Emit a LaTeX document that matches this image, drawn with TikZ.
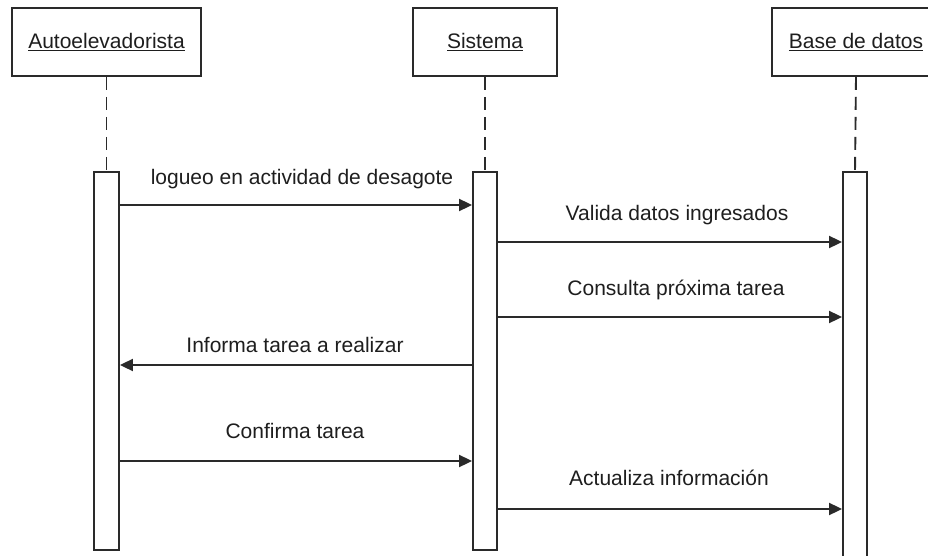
\documentclass[tikz,border=0pt]{standalone}
\usepackage{fontspec}
\setmainfont{Liberation Sans}
\usetikzlibrary{arrows.meta}
\definecolor{linegray}{HTML}{2A2A2A}
\definecolor{txtgray}{HTML}{1E1E1E}
\tikzset{
  headbox/.style={draw=linegray, line width=1.9pt, fill=white, minimum height=68pt, inner sep=0pt, font=\fontsize{21}{24}\selectfont, text=txtgray},
  actbox/.style={draw=linegray, line width=1.9pt, fill=white, inner sep=0pt},
  lifeline/.style={draw=linegray, line width=1.9pt, dash pattern=on 13pt off 7pt},
  msg/.style={draw=linegray, line width=2pt, -{Triangle[length=13pt,width=12pt]}},
  msglabel/.style={anchor=base, inner sep=0pt, font=\fontsize{21}{24}\selectfont, text=txtgray},
}
\begin{document}
\begin{tikzpicture}[x=1pt,y=-1pt]
\useasboundingbox (0,0) rectangle (928,556);
\fill[white] (0,0) rectangle (928,556);
% heads
\node[headbox, minimum width=189pt] (h1) at (106.5,42) {\underline{Autoelevadorista}};
\node[headbox, minimum width=144pt] (h2) at (485,42) {\underline{Sistema}};
\node[headbox, minimum width=168pt] (h3) at (856,42) {\underline{Base de datos}};
% activations
\node[actbox, minimum width=25pt, minimum height=378pt] (a1) at (106.5,361) {};
\node[actbox, minimum width=24pt, minimum height=378pt] (a2) at (485,361) {};
\node[actbox, minimum width=24pt, minimum height=400pt] (a3) at (855,372) {};
% lifelines
\draw[lifeline] (h1.south) -- (a1.north);
\draw[lifeline] (h2.south) -- (a2.north);
\draw[lifeline] (h3.south) -- (a3.north);
% messages
\draw[msg] (a1.east |- 0,205) -- (a2.west |- 0,205);
\node[msglabel] (l1) at (302,185) {logueo en actividad de desagote};
\draw[msg] (a2.east |- 0,242) -- (a3.west |- 0,242);
\node[msglabel] (l2) at (677,220) {Valida datos ingresados};
\draw[msg] (a2.east |- 0,317) -- (a3.west |- 0,317);
\node[msglabel] (l3) at (676,295) {Consulta próxima tarea};
\draw[msg] (a2.west |- 0,365) -- (a1.east |- 0,365);
\node[msglabel] (l4) at (295,352) {Informa tarea a realizar};
\draw[msg] (a1.east |- 0,461) -- (a2.west |- 0,461);
\node[msglabel] (l5) at (295,438) {Confirma tarea};
\draw[msg] (a2.east |- 0,509) -- (a3.west |- 0,509);
\node[msglabel] (l6) at (669,485) {Actualiza información};
\end{tikzpicture}
\end{document}
